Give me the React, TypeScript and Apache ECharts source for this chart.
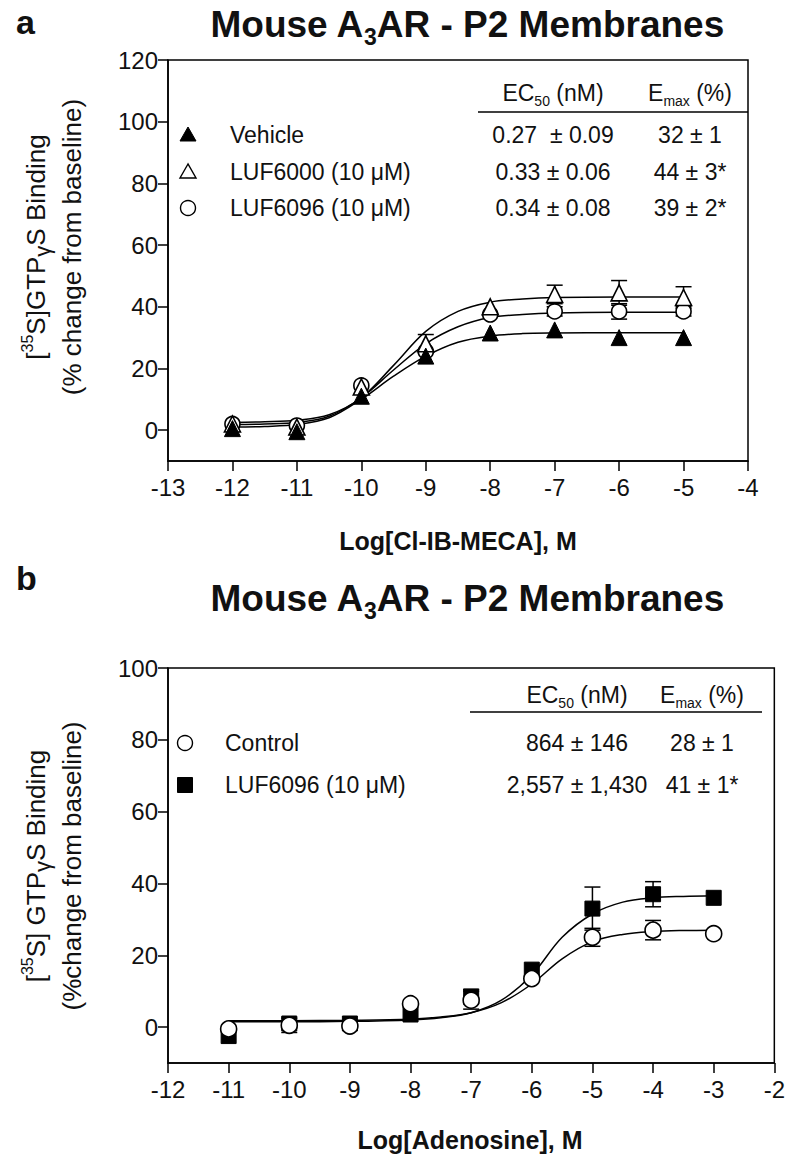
import React, { useEffect, useRef } from "react";
import * as echarts from "echarts";

// ---------- Panel a data ----------
const xTicksA = [-13, -12, -11, -10, -9, -8, -7, -6, -5, -4];
const yTicksA = [0, 20, 40, 60, 80, 100, 120];
const doseA = [-12, -11, -10, -9, -8, -7, -6, -5];
const vehicleA = [0.5, -0.5, 11, 24, 31.5, 32.5, 30, 30];
const luf6000A = [2, 1, 14, 28, 40, 44, 44.5, 43];
const luf6096A = [2, 1.5, 14.5, 25.5, 37.5, 38.5, 38.5, 38.5];
const luf6000ErrA = [0, 0, 0, 3, 0, 3, 4, 3.5];
const luf6096ErrA = [0, 0, 0, 0, 0, 1.5, 2.5, 1.5];
const curveXA = [-12, -11.5, -11, -10.5, -10, -9.5, -9, -8.5, -8, -7.5, -7, -6, -5];
const vehicleCurveA = [1, 1.2, 1.8, 4, 10, 17.5, 24, 28.5, 30.5, 31.3, 31.5, 31.6, 31.6];
const luf6000CurveA = [2.5, 2.7, 3.2, 5, 10.5, 21, 32, 38.5, 41.5, 42.5, 43, 43.2, 43.2];
const luf6096CurveA = [1.8, 2, 2.5, 4.5, 10.5, 19.5, 28, 33.5, 36.5, 37.5, 38, 38.2, 38.2];

// ---------- Panel b data ----------
const xTicksB = [-12, -11, -10, -9, -8, -7, -6, -5, -4, -3, -2];
const yTicksB = [0, 20, 40, 60, 80, 100];
const doseB = [-11, -10, -9, -8, -7, -6, -5, -4, -3];
const controlB = [-0.5, 0.5, 0.3, 6.5, 7.5, 13.5, 25, 27, 26];
const controlErrB = [0, 2, 0, 0, 2.5, 0, 2.5, 2.7, 0];
const lufB = [-2.5, 1, 1, 3.5, 8.5, 16, 33, 37, 36];
const lufErrB = [0, 0, 0, 0, 2, 0, 6, 3.5, 0];
const curveXB = [-11, -10, -9, -8, -7.5, -7, -6.5, -6, -5.5, -5, -4.5, -4, -3.5, -3];
const controlCurveB = [1.8, 1.8, 1.9, 2.2, 2.8, 4, 6.8, 12, 19, 23.8, 25.8, 26.6, 26.9, 27];
const lufCurveB = [1.5, 1.5, 1.6, 2, 2.6, 4, 7.5, 14.5, 25, 31.5, 34.8, 36, 36.4, 36.6];

// ---------- table texts ----------
const tableA = [
  { label: "Vehicle", ec50: "0.27  \u00b1 0.09", emax: "32 \u00b1 1" },
  { label: "LUF6000 (10 \u03bcM)", ec50: "0.33 \u00b1 0.06", emax: "44 \u00b1 3*" },
  { label: "LUF6096 (10 \u03bcM)", ec50: "0.34 \u00b1 0.08", emax: "39 \u00b1 2*" },
];
const tableB = [
  { label: "Control", ec50: "864 \u00b1 146", emax: "28 \u00b1 1" },
  { label: "LUF6096 (10 \u03bcM)", ec50: "2,557 \u00b1 1,430", emax: "41 \u00b1 1*" },
];

const FONT = "'Liberation Sans', Arial, Helvetica, sans-serif";
const INK = "#111";

const pairs = (xs: number[], ys: number[]) => xs.map((x, i) => [x, ys[i]]);
const errs = (xs: number[], ys: number[], es: number[]) =>
  xs.map((x, i) => [x, ys[i] - es[i], ys[i] + es[i]]).filter((_, i) => es[i] > 0);

const rich = (size: number) => {
  const s = Math.round(size * 0.62);
  const L = Math.round(size * 1.3);
  return {
    n: { fontSize: size, fontFamily: FONT, fill: INK, lineHeight: L, verticalAlign: "middle" },
    b: { fontSize: size, fontFamily: FONT, fontWeight: "bold", fill: INK, lineHeight: L, verticalAlign: "middle" },
    sub: { fontSize: s, fontFamily: FONT, fill: INK, lineHeight: s, verticalAlign: "bottom" },
    bsub: { fontSize: s, fontFamily: FONT, fontWeight: "bold", fill: INK, lineHeight: s, verticalAlign: "bottom" },
    sup: { fontSize: s, fontFamily: FONT, fill: INK, lineHeight: s, verticalAlign: "top" },
    g: { fontSize: Math.round(size * 0.85), fontFamily: FONT, fill: INK, lineHeight: Math.round(size * 0.85), verticalAlign: "bottom" },
  };
};

function txt(x: number, y: number, text: string, size: number, align = "left", extra: any = {}) {
  const { style: extraStyle, ...rest } = extra;
  return {
    type: "text",
    x,
    y,
    z: 10,
    ...rest,
    style: {
      text,
      rich: rich(size),
      fontSize: size,
      fontFamily: FONT,
      fill: INK,
      align,
      verticalAlign: "middle",
      textAlign: align,
      textVerticalAlign: "middle",
      ...(extraStyle || {}),
    },
  };
}

function errorSeries(data: number[][], xi: number, z: number) {
  return {
    type: "custom",
    xAxisIndex: xi,
    yAxisIndex: xi,
    z,
    silent: true,
    data,
    encode: { x: 0, y: [1, 2] },
    renderItem: (params: any, api: any) => {
      const x = api.value(0);
      const lo = api.coord([x, api.value(1)]);
      const hi = api.coord([x, api.value(2)]);
      const w = 8;
      const st = { stroke: "#000", lineWidth: 1.5 };
      return {
        type: "group",
        children: [
          { type: "line", shape: { x1: lo[0], y1: lo[1], x2: hi[0], y2: hi[1] }, style: st },
          { type: "line", shape: { x1: lo[0] - w, y1: lo[1], x2: lo[0] + w, y2: lo[1] }, style: st },
          { type: "line", shape: { x1: hi[0] - w, y1: hi[1], x2: hi[0] + w, y2: hi[1] }, style: st },
        ],
      };
    },
  };
}

function curve(xs: number[], ys: number[], xi: number) {
  return {
    type: "line",
    xAxisIndex: xi,
    yAxisIndex: xi,
    data: pairs(xs, ys),
    smooth: 0.35,
    showSymbol: false,
    symbol: "none",
    silent: true,
    z: 1,
    lineStyle: { color: "#000", width: 1.5 },
  };
}

function marks(xs: number[], ys: number[], xi: number, symbol: string, size: number, filled: boolean, z: number) {
  return {
    type: "scatter",
    xAxisIndex: xi,
    yAxisIndex: xi,
    data: pairs(xs, ys),
    symbol,
    symbolSize: size,
    z,
    itemStyle: filled
      ? { color: "#000", borderColor: "#000", borderWidth: 1, opacity: 1 }
      : { color: "#fff", borderColor: "#000", borderWidth: 1.6, opacity: 1 },
  };
}

const axisCommon = {
  axisLine: { show: true, onZero: false, lineStyle: { color: "#000", width: 1.5 } },
  axisTick: { show: true, inside: false, length: 10, lineStyle: { color: "#000", width: 1.5 } },
  splitLine: { show: false },
};

function xAxis(gi: number, ticks: number[]) {
  return {
    type: "value",
    gridIndex: gi,
    min: ticks[0],
    max: ticks[ticks.length - 1],
    interval: 1,
    ...axisCommon,
    axisLabel: { fontSize: 24, fontFamily: FONT, color: INK, margin: 14 },
  };
}

function yAxis(gi: number, ticks: number[]) {
  return {
    type: "value",
    gridIndex: gi,
    min: -10,
    max: ticks[ticks.length - 1],
    ...axisCommon,
    axisTick: { ...axisCommon.axisTick, customValues: ticks },
    axisLabel: { fontSize: 24, fontFamily: FONT, color: INK, margin: 10, customValues: ticks },
  };
}

function tableGraphics(
  rows: { label: string; ec50: string; emax: string }[],
  headY: number,
  lineY: number,
  lineX1: number,
  lineX2: number,
  rowYs: number[],
  symX: number,
  labX: number,
  c1: number,
  c2: number,
  symbols: string[]
) {
  const fs = 23;
  const els: any[] = [];
  els.push(txt(c1, headY, "{n|EC}{sub|50}{n| (nM)}", fs, "center"));
  els.push(txt(c2, headY, "{n|E}{sub|max}{n| (%)}", fs, "center"));
  els.push({ type: "line", z: 10, shape: { x1: lineX1, y1: lineY, x2: lineX2, y2: lineY }, style: { stroke: "#000", lineWidth: 1.5 } });
  rows.forEach((r, i) => {
    const y = rowYs[i];
    els.push(txt(labX, y, r.label, fs, "left"));
    els.push(txt(c1, y, r.ec50, fs, "center"));
    els.push(txt(c2, y, r.emax, fs, "center"));
    const s = symbols[i];
    const st = s.startsWith("filled")
      ? { fill: "#000", stroke: "#000", lineWidth: 1 }
      : { fill: "#fff", stroke: "#000", lineWidth: 1.4 };
    if (s.endsWith("triangle")) {
      els.push({ type: "polygon", z: 10, shape: { points: [[symX, y - 8], [symX - 8, y + 6], [symX + 8, y + 6]] }, style: st });
    } else if (s.endsWith("circle")) {
      els.push({ type: "circle", z: 10, shape: { cx: symX, cy: y, r: 7.5 }, style: st });
    } else {
      els.push({ type: "rect", z: 10, shape: { x: symX - 7.5, y: y - 7.5, width: 15, height: 15 }, style: st });
    }
  });
  return els;
}

export default function App() {
  const ref = useRef<HTMLDivElement>(null);
  useEffect(() => {
    if (!ref.current) return;
    const chart = echarts.init(ref.current, null, { renderer: "svg" });
    const graphics: any[] = [
      txt(16, 22, "a", 34, "left", { style: { fontWeight: "bold" } }),
      txt(467, 24, "{b|Mouse A}{bsub|3}{b|AR - P2 Membranes}", 37, "center"),
      txt(36, 247, "{n|[}{sup|35}{n|S]GTP}{g|\u03b3}{n|S Binding}", 26, "center", { rotation: Math.PI / 2 }),
      txt(72, 247, "(% change from baseline)", 26, "center", { rotation: Math.PI / 2 }),
      txt(458, 541, "Log[Cl-IB-MECA], M", 25, "center", { style: { fontWeight: "bold" } }),
      ...tableGraphics(tableA, 93, 112, 478, 748, [135, 172, 208], 188, 230, 553, 690, ["filledtriangle", "opentriangle", "opencircle"]),

      txt(16, 578, "b", 34, "left", { style: { fontWeight: "bold" } }),
      txt(467, 598, "{b|Mouse A}{bsub|3}{b|AR - P2 Membranes}", 37, "center"),
      txt(36, 866, "{n|[}{sup|35}{n|S] GTP}{g|\u03b3}{n|S Binding}", 26, "center", { rotation: Math.PI / 2 }),
      txt(72, 866, "(%change from baseline)", 26, "center", { rotation: Math.PI / 2 }),
      txt(470, 1140, "Log[Adenosine], M", 25, "center", { style: { fontWeight: "bold" } }),
      ...tableGraphics(tableB, 695, 712, 470, 762, [743, 785], 185, 225, 577, 702, ["opencircle", "filledsquare"]),
    ];

    chart.setOption({
      animation: false,
      backgroundColor: "#fff",
      grid: [
        { left: 168, top: 60, width: 580, height: 401, show: true, borderColor: "#000", borderWidth: 1.5, backgroundColor: "transparent" },
        { left: 168, top: 668, width: 610, height: 395, show: true, borderColor: "#000", borderWidth: 1.5, backgroundColor: "transparent" },
      ],
      xAxis: [xAxis(0, xTicksA), xAxis(1, xTicksB)],
      yAxis: [yAxis(0, yTicksA), yAxis(1, yTicksB)],
      series: [
        curve(curveXA, vehicleCurveA, 0),
        curve(curveXA, luf6000CurveA, 0),
        curve(curveXA, luf6096CurveA, 0),
        errorSeries(errs(doseA, luf6096A, luf6096ErrA), 0, 2),
        errorSeries(errs(doseA, luf6000A, luf6000ErrA), 0, 2),
        marks(doseA, luf6096A, 0, "circle", 15, false, 3),
        marks(doseA, luf6000A, 0, "triangle", 16, false, 4),
        marks(doseA, vehicleA, 0, "triangle", 16, true, 5),

        curve(curveXB, controlCurveB, 1),
        curve(curveXB, lufCurveB, 1),
        errorSeries(errs(doseB, lufB, lufErrB), 1, 2),
        errorSeries(errs(doseB, controlB, controlErrB), 1, 2),
        marks(doseB, lufB, 1, "rect", 15, true, 3),
        marks(doseB, controlB, 1, "circle", 16, false, 4),
      ],
      graphic: graphics,
    });
    return () => chart.dispose();
  }, []);
  return (
    <div
      ref={ref}
      style={{ position: "absolute", left: 0, top: 0, width: 788, height: 1167, background: "#fff" }}
    />
  );
}
